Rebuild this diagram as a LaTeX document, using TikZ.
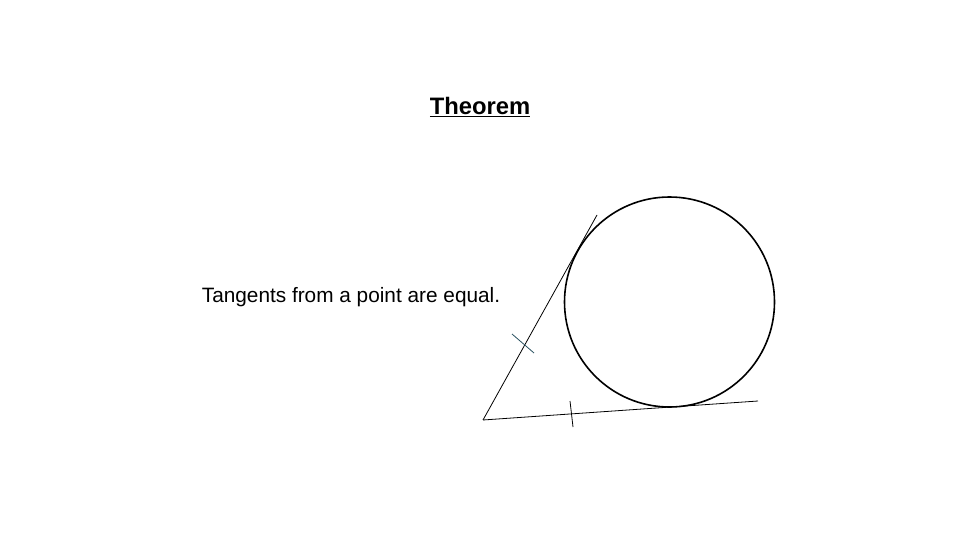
\documentclass[tikz,border=0pt]{standalone}
\usepackage{fontspec}
\setmainfont{Liberation Sans}
\definecolor{tickteal}{RGB}{40,80,95}

\begin{document}
\begin{tikzpicture}[x=1pt,y=-1pt,
		tangent line/.style={draw,line width=0.8pt},
		tick mark/.style={draw,line width=0.8pt},
		circle line/.style={draw,line width=1.6pt},
		label text/.style={font=\fontsize{20.8}{24}\selectfont,inner sep=0pt},
		title text/.style={font=\fontsize{23.8}{28}\selectfont\bfseries,inner sep=0pt}]
		
		\useasboundingbox (0,0) rectangle (960,540);
		
		\node[title text] (title) at (480,107) {\underline{Theorem}};
		\node[label text] (rule) at (351,297) {Tangents from a point are equal.};
		
		\coordinate (O) at (669.5,302);
		\coordinate (P) at (483,420);
		\coordinate (U) at (597,215);
		\coordinate (L) at (758,401);
		\coordinate (t1a) at (512,334);
		\coordinate (t1b) at (534,353);
		\coordinate (t2a) at (570,401);
		\coordinate (t2b) at (573,427);
		
		\path[circle line] (O) circle (105);
		\path[tangent line] (P) -- (U);
		\path[tangent line] (P) -- (L);
		\path[tick mark,tickteal] (t1a) -- (t1b);
		\path[tick mark] (t2a) -- (t2b);
\end{tikzpicture}
\end{document}
